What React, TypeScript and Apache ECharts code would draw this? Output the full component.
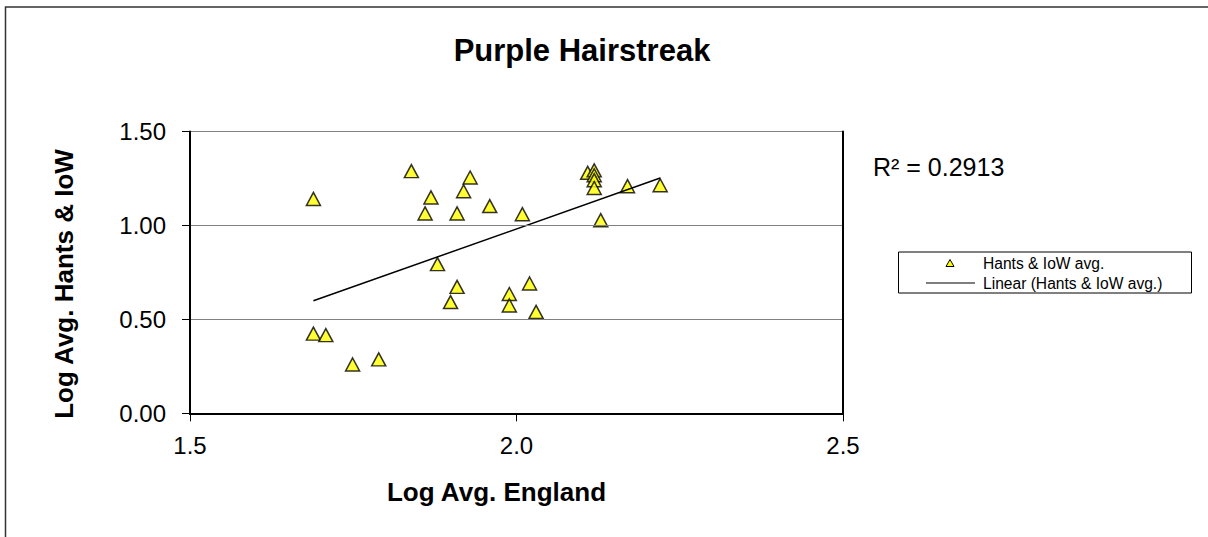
import React, { useEffect, useRef } from "react";
import * as echarts from "echarts";

const chartTitle = "Purple Hairstreak";
const xAxisTitle = "Log Avg. England";
const yAxisTitle = "Log Avg. Hants & IoW";
const seriesName = "Hants & IoW avg.";
const trendName = "Linear (Hants & IoW avg.)";
const rSquaredLabel = "R² = 0.2913";

const xValues = [
  1.689, 1.839, 1.929, 1.919, 1.869, 1.86, 1.909, 1.959, 2.009, 1.879,
  1.909, 1.899, 1.989, 1.989, 2.02, 2.03, 1.689, 1.708, 1.749, 1.789,
  2.109, 2.119, 2.119, 2.119, 2.119, 2.17, 2.22, 2.129,
];
const yValues = [
  1.141, 1.289, 1.255, 1.182, 1.149, 1.064, 1.064, 1.103, 1.06, 0.794,
  0.673, 0.592, 0.635, 0.574, 0.691, 0.54, 0.424, 0.416, 0.26, 0.287,
  1.28, 1.293, 1.267, 1.241, 1.199, 1.209, 1.214, 1.028,
];

const xAxisMin = 1.5;
const xAxisMax = 2.5;
const xAxisStep = 0.5;
const yAxisMin = 0;
const yAxisMax = 1.5;
const yAxisStep = 0.5;

const FONT = "'Liberation Sans', Arial, sans-serif";

function linearFit(xs: number[], ys: number[]) {
  const n = xs.length;
  const mx = xs.reduce((a, b) => a + b, 0) / n;
  const my = ys.reduce((a, b) => a + b, 0) / n;
  let sxy = 0;
  let sxx = 0;
  for (let i = 0; i < n; i++) {
    sxy += (xs[i] - mx) * (ys[i] - my);
    sxx += (xs[i] - mx) * (xs[i] - mx);
  }
  const slope = sxy / sxx;
  return { slope, intercept: my - slope * mx };
}

export default function App() {
  const ref = useRef<HTMLDivElement>(null);

  useEffect(() => {
    if (!ref.current) return;
    const chart = echarts.init(ref.current, null, { renderer: "svg" });
    const points = xValues.map((x, i) => [x, yValues[i]]);
    const { slope, intercept } = linearFit(xValues, yValues);
    const xMin = Math.min(...xValues);
    const xMax = Math.max(...xValues);
    const trend = [
      [xMin, intercept + slope * xMin],
      [xMax, intercept + slope * xMax],
    ];

    const frameAxis = {
      type: "value",
      axisLine: { show: true, lineStyle: { color: "#000", width: 2 } },
      axisTick: { show: false },
      axisLabel: { show: false },
      splitLine: { show: false },
      z: 10,
    };

    chart.setOption({
      animation: false,
      backgroundColor: "#fff",
      grid: {
        left: 190,
        top: 131.5,
        right: 1208 - 843,
        bottom: 537 - 413.3,
        show: false,
      },
      xAxis: [
        {
          type: "value",
          min: xAxisMin,
          max: xAxisMax,
          interval: xAxisStep,
          z: 10,
          axisLine: { show: true, onZero: false, lineStyle: { color: "#000", width: 2 } },
          axisTick: { show: true, length: 8, lineStyle: { color: "#000", width: 1 } },
          splitLine: { show: false },
          axisLabel: {
            color: "#000",
            fontFamily: FONT,
            fontSize: 24,
            margin: 20,
            formatter: (v: number) => v.toFixed(1),
          },
        },
        { ...frameAxis, position: "top", min: xAxisMin, max: xAxisMax, interval: xAxisStep },
      ],
      yAxis: [
        {
          type: "value",
          min: yAxisMin,
          max: yAxisMax,
          interval: yAxisStep,
          z: 10,
          axisLine: { show: true, onZero: false, lineStyle: { color: "#000", width: 2 } },
          axisTick: { show: true, length: 8, lineStyle: { color: "#000", width: 1 } },
          splitLine: { show: true, lineStyle: { color: "#808080", width: 1 } },
          axisLabel: {
            color: "#000",
            fontFamily: FONT,
            fontSize: 24,
            margin: 24,
            formatter: (v: number) => v.toFixed(2),
          },
        },
        { ...frameAxis, position: "right", min: yAxisMin, max: yAxisMax, interval: yAxisStep },
      ],
      series: [
        {
          name: seriesName,
          type: "scatter",
          data: points,
          symbol: "triangle",
          symbolSize: [14, 13],
          z: 2,
          itemStyle: { color: "#FFFF00", borderColor: "#000", borderWidth: 1.5 },
        },
        {
          name: trendName,
          type: "line",
          data: trend,
          symbol: "none",
          z: 3,
          lineStyle: { color: "#000", width: 1.5 },
        },
      ],
      graphic: [
        {
          type: "rect",
          shape: { x: 5.5, y: 7, width: 1400, height: 700 },
          style: { fill: "none", stroke: "#333", lineWidth: 1.5 },
          silent: true,
        },
        {
          type: "text",
          x: 582,
          y: 50,
          style: {
            text: chartTitle,
            fill: "#000",
            font: `bold 31px ${FONT}`,
            align: "center",
            verticalAlign: "middle",
          },
        },
        {
          type: "text",
          x: 496.5,
          y: 492,
          style: {
            text: xAxisTitle,
            fill: "#000",
            font: `bold 26px ${FONT}`,
            align: "center",
            verticalAlign: "middle",
          },
        },
        {
          type: "text",
          x: 64,
          y: 284,
          rotation: Math.PI / 2,
          style: {
            text: yAxisTitle,
            fill: "#000",
            font: `bold 26px ${FONT}`,
            align: "center",
            verticalAlign: "middle",
          },
        },
        {
          type: "text",
          x: 873,
          y: 167,
          style: {
            text: rSquaredLabel,
            fill: "#000",
            font: `25px ${FONT}`,
            align: "left",
            verticalAlign: "middle",
          },
        },
        {
          type: "rect",
          shape: { x: 898.5, y: 252, width: 293, height: 41 },
          style: { fill: "#fff", stroke: "#000", lineWidth: 1 },
        },
        {
          type: "polygon",
          shape: { points: [[950, 259.5], [954, 266.5], [946, 266.5]] },
          style: { fill: "#FFFF00", stroke: "#000", lineWidth: 1 },
        },
        {
          type: "line",
          shape: { x1: 926, y1: 283, x2: 975, y2: 283 },
          style: { stroke: "#000", lineWidth: 1.2 },
        },
        {
          type: "text",
          x: 983,
          y: 263,
          style: {
            text: seriesName,
            fill: "#000",
            font: `15.6px ${FONT}`,
            align: "left",
            verticalAlign: "middle",
          },
        },
        {
          type: "text",
          x: 983,
          y: 283,
          style: {
            text: trendName,
            fill: "#000",
            font: `15.6px ${FONT}`,
            align: "left",
            verticalAlign: "middle",
          },
        },
      ],
    });

    return () => chart.dispose();
  }, []);

  return (
    <div
      ref={ref}
      style={{ position: "absolute", left: 0, top: 0, width: 1208, height: 537 }}
    />
  );
}
